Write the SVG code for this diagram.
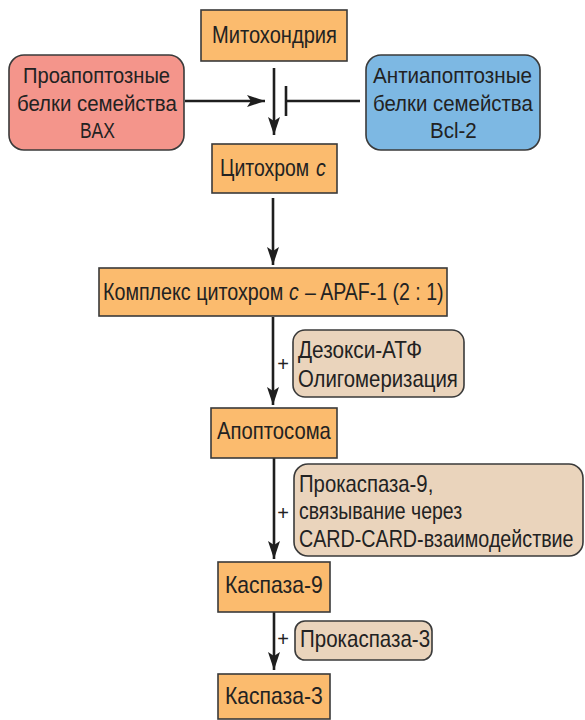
<svg xmlns="http://www.w3.org/2000/svg" width="585" height="720" viewBox="0 0 585 720">
<style>
  text { font-family: "Liberation Sans", Arial, sans-serif; font-size: 23px; fill: #222222; }
  .side { font-size: 22px; }
  .it { font-style: italic; }
  .box { fill: #FBBB6E; stroke: #3a3a3a; stroke-width: 1.6; }
  .red { fill: #F4958B; stroke: #3a3a3a; stroke-width: 1.6; }
  .blue { fill: #7DB8E3; stroke: #3a3a3a; stroke-width: 1.6; }
  .beige { fill: #EAD4BC; stroke: #3a3a3a; stroke-width: 1.6; }
  .line { stroke: #1e1e1e; stroke-width: 2.6; fill: none; }
  .plus { font-size: 20px; }
</style>
<defs>
  <marker id="ah" markerWidth="18" markerHeight="12" refX="18" refY="6" orient="auto" markerUnits="userSpaceOnUse" viewBox="0 0 18 12">
    <path d="M0,0 L18,6 L0,12 L4,6 Z" fill="#1e1e1e"/>
  </marker>
</defs>

<g id="connectors">
  <line class="line" x1="274" y1="68" x2="274" y2="135" marker-end="url(#ah)"/>
  <line class="line" x1="185" y1="101" x2="265" y2="101" marker-end="url(#ah)"/>
  <line class="line" x1="360" y1="101" x2="286" y2="101"/>
  <line class="line" x1="286" y1="86" x2="286" y2="116"/>
  <line class="line" x1="273" y1="198" x2="273" y2="265" marker-end="url(#ah)"/>
  <line class="line" x1="273" y1="317" x2="273" y2="405" marker-end="url(#ah)"/>
  <line class="line" x1="274" y1="458" x2="274" y2="559" marker-end="url(#ah)"/>
  <line class="line" x1="274" y1="612" x2="274" y2="670" marker-end="url(#ah)"/>
  <text class="plus" x="283" y="371" text-anchor="middle">+</text>
  <text class="plus" x="283" y="520" text-anchor="middle">+</text>
  <text class="plus" x="283" y="646" text-anchor="middle">+</text>
</g>

<g id="mitochondria">
  <rect class="box" x="201" y="10" width="146" height="51"/>
  <text transform="translate(212,43) scale(0.85,1)" textLength="147" lengthAdjust="spacingAndGlyphs">Митохондрия</text>
</g>

<g id="bax">
  <rect class="red" x="9" y="55" width="175" height="95" rx="15"/>
  <text class="side" transform="translate(23,83) scale(0.85,1)" textLength="173" lengthAdjust="spacingAndGlyphs">Проапоптозные</text>
  <text class="side" transform="translate(17,111) scale(0.85,1)" textLength="188" lengthAdjust="spacingAndGlyphs">белки семейства</text>
  <text class="side" transform="translate(80,138) scale(0.85,1)" textLength="41" lengthAdjust="spacingAndGlyphs">BAX</text>
</g>

<g id="bcl2">
  <rect class="blue" x="366" y="55" width="174" height="95" rx="15"/>
  <text class="side" transform="translate(373,83) scale(0.85,1)" textLength="187" lengthAdjust="spacingAndGlyphs">Антиапоптозные</text>
  <text class="side" transform="translate(373,111) scale(0.85,1)" textLength="188" lengthAdjust="spacingAndGlyphs">белки семейства</text>
  <text class="side" transform="translate(430,138) scale(0.85,1)" textLength="55" lengthAdjust="spacingAndGlyphs">Bcl-2</text>
</g>

<g id="cytochrome">
  <rect class="box" x="212" y="144" width="125" height="49"/>
  <text transform="translate(220,176) scale(0.85,1)" textLength="105" lengthAdjust="spacingAndGlyphs">Цитохром</text>
  <text class="it" transform="translate(316,176) scale(0.85,1)">c</text>
</g>

<g id="complex">
  <rect class="box" x="99" y="268" width="348" height="48"/>
  <text transform="translate(103,300) scale(0.85,1)" textLength="212" lengthAdjust="spacingAndGlyphs">Комплекс цитохром</text>
  <text class="it" transform="translate(289,300) scale(0.85,1)">c</text>
  <text transform="translate(305,300) scale(0.85,1)" textLength="163" lengthAdjust="spacingAndGlyphs">– APAF-1 (2 : 1)</text>
</g>

<g id="deoxy">
  <rect class="beige" x="293" y="330" width="171" height="67" rx="12"/>
  <text transform="translate(298,358) scale(0.85,1)" textLength="146" lengthAdjust="spacingAndGlyphs">Дезокси-АТФ</text>
  <text transform="translate(298,387) scale(0.85,1)" textLength="188" lengthAdjust="spacingAndGlyphs">Олигомеризация</text>
</g>

<g id="apoptosome">
  <rect class="box" x="211" y="408" width="126" height="50"/>
  <text transform="translate(217,439) scale(0.85,1)" textLength="134" lengthAdjust="spacingAndGlyphs">Апоптосома</text>
</g>

<g id="procaspase9">
  <rect class="beige" x="294" y="464" width="289" height="92" rx="14"/>
  <text transform="translate(299,492) scale(0.85,1)" textLength="158" lengthAdjust="spacingAndGlyphs">Прокаспаза-9,</text>
  <text transform="translate(299,519) scale(0.85,1)" textLength="192" lengthAdjust="spacingAndGlyphs">связывание через</text>
  <text transform="translate(299,547) scale(0.85,1)" textLength="323" lengthAdjust="spacingAndGlyphs">CARD-CARD-взаимодействие</text>
</g>

<g id="caspase9">
  <rect class="box" x="218" y="562" width="112" height="50"/>
  <text transform="translate(225,593) scale(0.85,1)" textLength="115" lengthAdjust="spacingAndGlyphs">Каспаза-9</text>
</g>

<g id="procaspase3">
  <rect class="beige" x="295" y="621" width="137" height="39" rx="10"/>
  <text transform="translate(300,647) scale(0.85,1)" textLength="153" lengthAdjust="spacingAndGlyphs">Прокаспаза-3</text>
</g>

<g id="caspase3">
  <rect class="box" x="218" y="674" width="112" height="45"/>
  <text transform="translate(225,704) scale(0.85,1)" textLength="115" lengthAdjust="spacingAndGlyphs">Каспаза-3</text>
</g>
</svg>
